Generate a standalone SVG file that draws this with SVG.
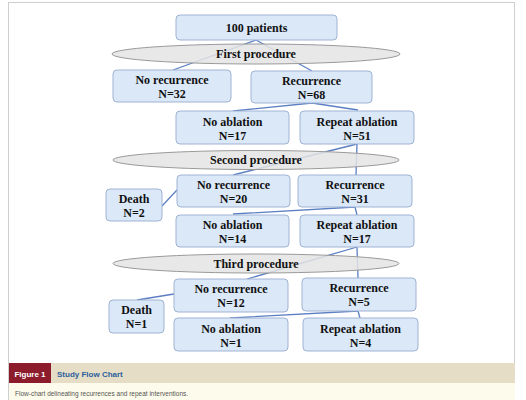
<svg xmlns="http://www.w3.org/2000/svg" width="526" height="400" viewBox="0 0 526 400">
<style>
.box{fill:#dbe8f8;stroke:#9fb3d3;stroke-width:1}
.ell{fill:#e4e4e4;fill-opacity:0.85;stroke:#9a9a9a;stroke-width:1}
.t{font-family:"Liberation Serif","Times New Roman",serif;font-weight:bold;font-size:12px;fill:#111;text-anchor:middle}
.ln{stroke:#5b7fc2;stroke-width:1.3;fill:none}
</style>
<rect x="0" y="0" width="526" height="400" fill="#ffffff"/>
<rect x="8.5" y="2.5" width="506" height="397" fill="#ffffff" stroke="#cfcfcf" stroke-width="1"/>
<g id="connectors">
<path class="ln" d="M256 40 L173 70 M256 40 L312 71"/>
<path class="ln" d="M312 103 L233 111 M312 103 L358 110"/>
<path class="ln" d="M357 144 L233 175 M357 144 L356 175"/>
<path class="ln" d="M177 190 L162 206"/>
<path class="ln" d="M355 207 L233 214 M355 207 L357 215"/>
<path class="ln" d="M357 247 L247 279 M357 247 L358 278"/>
<path class="ln" d="M174 294 L137 300"/>
<path class="ln" d="M358 311 L230 318 M358 311 L360 318"/>
</g>
<g id="proc1"><ellipse class="ell" cx="256" cy="54" rx="144" ry="10"/><text class="t" x="256" y="58">First procedure</text></g>
<g id="proc2"><ellipse class="ell" cx="256" cy="160" rx="143" ry="9.5"/><text class="t" x="256" y="164">Second procedure</text></g>
<g id="proc3"><ellipse class="ell" cx="256" cy="263.5" rx="143" ry="9.5"/><text class="t" x="256" y="268">Third  procedure</text></g>
<g id="n100"><rect class="box" x="176" y="15" width="161" height="25" rx="4"/><text class="t" x="256.5" y="32">100 patients</text></g>
<g id="norec1"><rect class="box" x="113" y="70" width="118" height="32" rx="4"/><text class="t" x="172" y="84">No recurrence</text><text class="t" x="172" y="98">N=32</text></g>
<g id="rec1"><rect class="box" x="251" y="71" width="121" height="32" rx="4"/><text class="t" x="311.5" y="85">Recurrence</text><text class="t" x="311.5" y="99">N=68</text></g>
<g id="noabl1"><rect class="box" x="176" y="111" width="113" height="33" rx="4"/><text class="t" x="232.5" y="126">No ablation</text><text class="t" x="232.5" y="140">N=17</text></g>
<g id="rep1"><rect class="box" x="300" y="111" width="114" height="33" rx="4"/><text class="t" x="357" y="126">Repeat ablation</text><text class="t" x="357" y="140">N=51</text></g>
<g id="death2"><rect class="box" x="106" y="189" width="56" height="32" rx="4"/><text class="t" x="134" y="203">Death</text><text class="t" x="134" y="217">N=2</text></g>
<g id="norec2"><rect class="box" x="177" y="175" width="113" height="32" rx="4"/><text class="t" x="233.5" y="189">No recurrence</text><text class="t" x="233.5" y="203">N=20</text></g>
<g id="rec2"><rect class="box" x="298" y="175" width="114" height="32" rx="4"/><text class="t" x="355" y="189">Recurrence</text><text class="t" x="355" y="203">N=31</text></g>
<g id="noabl2"><rect class="box" x="176" y="215" width="113" height="32" rx="4"/><text class="t" x="232.5" y="229">No ablation</text><text class="t" x="232.5" y="243">N=14</text></g>
<g id="rep2"><rect class="box" x="300" y="215" width="114" height="32" rx="4"/><text class="t" x="357" y="229">Repeat ablation</text><text class="t" x="357" y="243">N=17</text></g>
<g id="norec3"><rect class="box" x="174" y="279" width="114" height="33" rx="4"/><text class="t" x="231" y="293">No recurrence</text><text class="t" x="231" y="307">N=12</text></g>
<g id="rec3"><rect class="box" x="302" y="278" width="114" height="33" rx="4"/><text class="t" x="359" y="292">Recurrence</text><text class="t" x="359" y="306">N=5</text></g>
<g id="death3"><rect class="box" x="109" y="300" width="55" height="33" rx="4"/><text class="t" x="136.5" y="314">Death</text><text class="t" x="136.5" y="328">N=1</text></g>
<g id="noabl3"><rect class="box" x="174" y="318" width="114" height="33" rx="4"/><text class="t" x="231" y="333">No ablation</text><text class="t" x="231" y="347">N=1</text></g>
<g id="rep3"><rect class="box" x="303" y="318" width="115" height="33" rx="4"/><text class="t" x="360.5" y="333">Repeat ablation</text><text class="t" x="360.5" y="347">N=4</text></g>
<g id="caption">
<rect x="9" y="363" width="506" height="20" fill="#e6ddc6"/>
<rect x="9" y="363" width="42" height="20" fill="#8c1c2c"/>
<text x="30" y="377" font-family="Liberation Sans, Arial, sans-serif" font-weight="bold" font-size="8" fill="#ffffff" text-anchor="middle">Figure 1</text>
<text x="57" y="377" font-family="Liberation Sans, Arial, sans-serif" font-weight="bold" font-size="8" fill="#2c5f9c">Study Flow Chart</text>
<rect x="9" y="383" width="506" height="17" fill="#fdfbeb"/>
<text x="15" y="396" font-family="Liberation Sans, Arial, sans-serif" font-size="6.5" fill="#555">Flow-chart delineating recurrences and repeat interventions.</text>
</g>
</svg>
